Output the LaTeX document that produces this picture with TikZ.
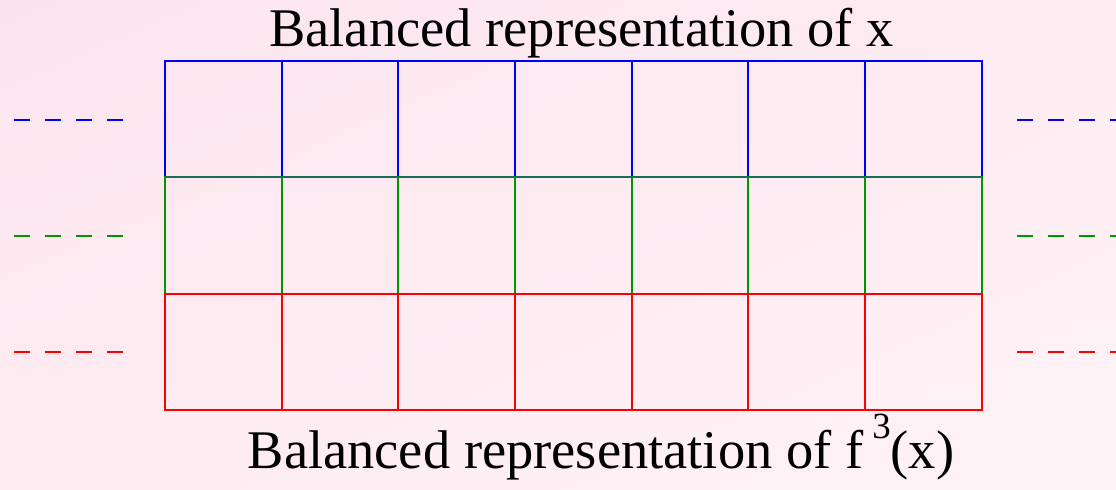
\documentclass[tikz,border=0pt]{standalone}
\usepackage{fontspec}
\setmainfont{Liberation Serif}
\usetikzlibrary{positioning,shadings}
\definecolor{bgtop}{RGB}{252,228,238}
\definecolor{bgmid}{RGB}{253,236,242}
\definecolor{bgbot}{RGB}{254,243,247}
\definecolor{rowgreen}{RGB}{0,150,0}
\definecolor{rowmix}{RGB}{25,110,90}

\begin{document}
\begin{tikzpicture}[x=0.02cm, y=-0.02cm, every node/.style={font=\fontsize{31}{34}\selectfont}]
\tikzstyle{cell}=[rectangle, draw, line width=1.1pt, minimum width=2.334cm, minimum height=2.327cm, inner sep=0pt, outer sep=0pt]
\tikzstyle{ext}=[line width=1.1pt, dash pattern=on 0.32cm off 0.3cm]
\useasboundingbox (0,0) rectangle (1116,490);
\shade[upper left=bgtop, upper right=bgmid, lower left=bgmid, lower right=bgbot] (0,0) rectangle (1116,490);
% blue row
\node[cell, draw=blue] (b1) at (223.3,119.2) {};
\foreach \i [count=\j from 2] in {1,...,6}
  \node[cell, draw=blue, right=0pt of b\i] (b\j) {};
% green row
\node[cell, draw=rowgreen, below=0pt of b1] (g1) {};
\foreach \i [count=\j from 2] in {1,...,6}
  \node[cell, draw=rowgreen, right=0pt of g\i] (g\j) {};
% red row
\node[cell, draw=red, below=0pt of g1] (r1) {};
\foreach \i [count=\j from 2] in {1,...,6}
  \node[cell, draw=red, right=0pt of r\i] (r\j) {};
\draw[rowmix, line width=1.1pt] (b1.south west) -- (b7.south east);
% continuation dashes
\coordinate (bl) at (14,120);   \coordinate (br) at (1017,120);
\coordinate (gl) at (14,236);   \coordinate (gr) at (1017,236);
\coordinate (rl) at (14,352);   \coordinate (rr) at (1017,352);
\draw[ext, blue] (bl) -- ++(109,0);
\draw[ext, blue] (br) -- ++(99,0);
\draw[ext, rowgreen] (gl) -- ++(109,0);
\draw[ext, rowgreen] (gr) -- ++(99,0);
\draw[ext, red] (rl) -- ++(109,0);
\draw[ext, red] (rr) -- ++(99,0);
\node[anchor=base, inner sep=0pt] (title) at (581.5,47) {Balanced representation of x};
\node[anchor=base, inner sep=0pt] (caption) at (601,468) {Balanced representation of f\,\raisebox{17pt}{\fontsize{21}{23}\selectfont 3}(x)};
\end{tikzpicture}
\end{document}
